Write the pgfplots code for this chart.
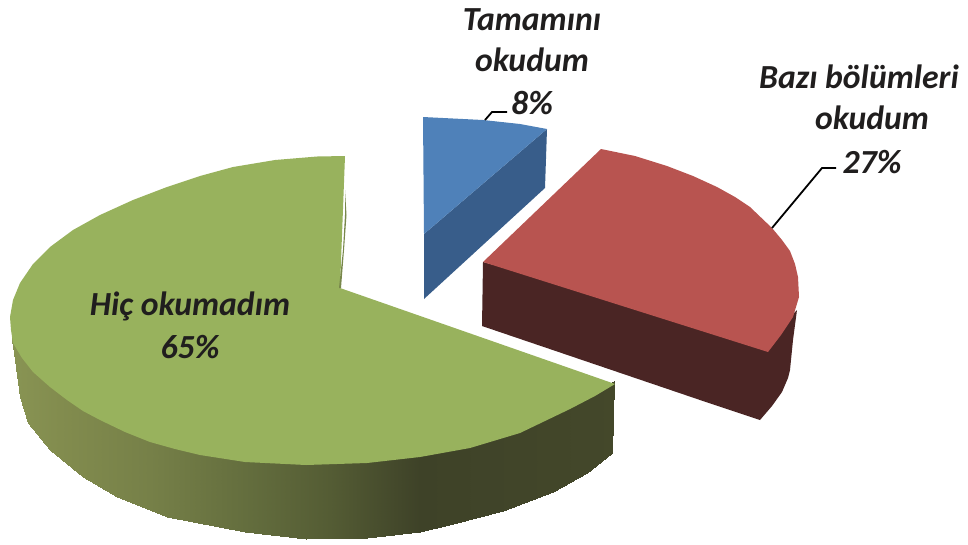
\documentclass[border=0pt]{standalone}
\usepackage{fontspec}
\setmainfont{Carlito}
\usepackage{pgfplots}
\pgfplotsset{compat=1.18}
\definecolor{greentop}{RGB}{152,178,93}
\definecolor{redtop}{RGB}{184,84,80}
\definecolor{redside}{RGB}{74,37,36}
\definecolor{bluetop}{RGB}{79,129,185}
\definecolor{blueside}{RGB}{56,93,138}
\definecolor{sliver}{RGB}{120,135,75}
\definecolor{labeltxt}{RGB}{32,30,30}
\begin{document}
\begin{tikzpicture}
\begin{axis}[
  scale only axis,
  width=968pt, height=544pt,
  xmin=0, xmax=968, ymin=0, ymax=544,
  y dir=reverse,
  axis lines=none,
  colormap={greenside}{
    rgb255(0cm)=(138,150,85); rgb255(6cm)=(130,140,78); rgb255(15cm)=(118,128,72);
    rgb255(24.5cm)=(100,110,62); rgb255(33cm)=(84,92,52); rgb255(42cm)=(62,66,40);
    rgb255(62cm)=(68,72,42)},
  point meta min=0, point meta max=620,
]
% keeps the page at the full frame
\path[use as bounding box] (axis cs:0,0) rectangle (axis cs:968,544);
% green side, two rows: upper and lower edge
\addplot[surf, shader=interp, mesh/rows=2, mesh/cols=17, point meta=x, forget plot] table {
x y
12 329
15 339
20 349
28 361
50 381
83 405
117 422
167 441
245 456
306 459
367 457
420 451
453 444
503 430
553 409
587 392
614 381
12 340
15 360
20 397
28 423
50 450
83 477
117 497
167 517
245 532
306 539
367 538
420 532
453 524
503 511
553 492
587 473
612 453
};
% green top
\addplot[fill=greentop, draw=none, forget plot] coordinates {
(345,156) (317,156.5) (275,160) (233,167) (200,176) (167,187) (133,200) (100,215)
(73,230) (50,247) (33,264) (20,283) (13,300) (10,317) (11,330) (13,343) (22,358) (33,372)
(50,387) (67,400) (83,411) (100,420) (125,432) (150,442) (175,449) (200,455) (245,462)
(306,465) (367,463) (420,457) (470,448) (520,433) (570,409) (595,396) (615,384) (340,288)
} --cycle;
\addplot[fill=sliver, draw=none, forget plot] coordinates {
(345,190) (346.5,215) (344,250) (341,288) (339,288) (343,250) (345,215)
} --cycle;
% red
\addplot[fill=redside, draw=none, forget plot] coordinates {
(483,262) (482,326) (700,400) (760,420) (772,406) (782,392) (788,378) (790,370) (793,340) (797,310) (768,340)
} --cycle;
\addplot[fill=redtop, draw=none, forget plot] coordinates {
(601,149) (635,156) (667,166) (693,176) (717,187) (735,197) (750,207) (772,228) (782,240) (790,251)
(795,264) (798,277) (799,297) (793,317) (781,335) (768,352) (483,262)
} --cycle;
% blue
\addplot[fill=blueside, draw=none, forget plot] coordinates {
(547,129) (545,188) (424,299) (424,234)
} --cycle;
\addplot[fill=bluetop, draw=none, forget plot] coordinates {
(423,117) (483,120) (520,124) (547,129) (424,234)
} --cycle;
% leader lines
\addplot[black, line width=1.8pt, forget plot] coordinates {(485,120) (492,112) (507,112)};
\addplot[black, line width=1.8pt, forget plot] coordinates {(772,228) (822,168) (836,168)};
% labels
\begin{scope}[every node/.style={font=\fontsize{33.7}{36}\selectfont\bfseries\itshape, text=labeltxt, inner sep=0pt}]
\node at (axis cs:532,20) {Tamamını};
\node at (axis cs:532,60) {okudum};
\node at (axis cs:532,103) {8\%};
\node at (axis cs:859,77) {Bazı bölümleri};
\node at (axis cs:872,118) {okudum};
\node at (axis cs:872,162) {27\%};
\node at (axis cs:190,306) {Hiç okumadım};
\node at (axis cs:190,347) {65\%};
\end{scope}
\end{axis}
\end{tikzpicture}
\end{document}
